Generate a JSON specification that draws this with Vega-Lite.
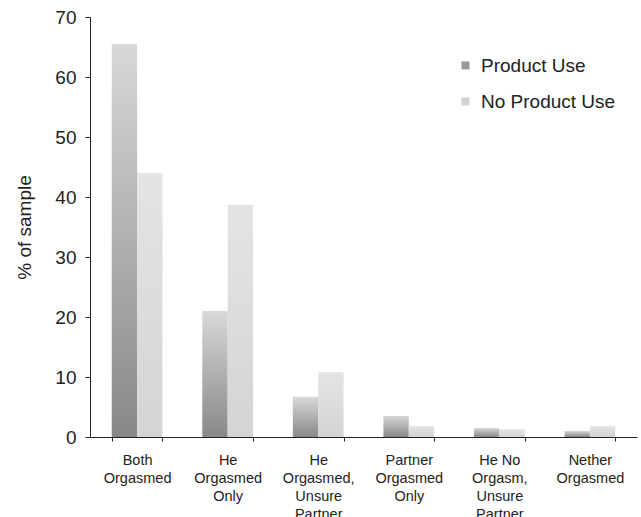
{
  "$schema": "https://vega.github.io/schema/vega-lite/v6.json",
  "autosize": "none",
  "width": 547,
  "height": 420,
  "padding": {"left": 90, "top": 17, "right": 4, "bottom": 80},
  "background": "white",
  "config": {
    "font": "Liberation Sans",
    "view": {"stroke": null},
    "axis": {"grid": false, "domainColor": "#222", "tickColor": "#222", "labelColor": "#222", "titleColor": "#222"}
  },
  "data": {
    "values": [
      {"outcome": "Both|Orgasmed", "series": "Product Use", "pct": 65.5},
      {"outcome": "Both|Orgasmed", "series": "No Product Use", "pct": 44.0},
      {"outcome": "He|Orgasmed|Only", "series": "Product Use", "pct": 21.0},
      {"outcome": "He|Orgasmed|Only", "series": "No Product Use", "pct": 38.7},
      {"outcome": "He|Orgasmed,|Unsure|Partner", "series": "Product Use", "pct": 6.7},
      {"outcome": "He|Orgasmed,|Unsure|Partner", "series": "No Product Use", "pct": 10.8},
      {"outcome": "Partner|Orgasmed|Only", "series": "Product Use", "pct": 3.5},
      {"outcome": "Partner|Orgasmed|Only", "series": "No Product Use", "pct": 1.8},
      {"outcome": "He No|Orgasm,|Unsure|Partner", "series": "Product Use", "pct": 1.5},
      {"outcome": "He No|Orgasm,|Unsure|Partner", "series": "No Product Use", "pct": 1.3},
      {"outcome": "Nether|Orgasmed", "series": "Product Use", "pct": 1.0},
      {"outcome": "Nether|Orgasmed", "series": "No Product Use", "pct": 1.8}
    ]
  },
  "encoding": {
    "x": {
      "field": "outcome",
      "type": "nominal",
      "sort": null,
      "scale": {"paddingInner": 0.44, "paddingOuter": 0.24},
      "axis": {
        "title": null,
        "labelAngle": 0,
        "labelExpr": "split(datum.label, '|')",
        "labelFontSize": 14.5,
        "labelLineHeight": 18,
        "labelPadding": 12,
        "tickBand": "extent",
        "tickSize": 4,
        "labelBaseline": "top"
      }
    },
    "xOffset": {"field": "series", "scale": {"domain": ["Product Use", "No Product Use"]}},
    "y": {
      "field": "pct",
      "type": "quantitative",
      "scale": {"domain": [0, 70]},
      "axis": {
        "title": "% of sample",
        "titleFontSize": 19,
        "titleFontWeight": "normal",
        "titlePadding": 20,
        "labelFontSize": 19,
        "labelPadding": 9,
        "tickSize": 5,
        "values": [0, 10, 20, 30, 40, 50, 60, 70]
      }
    }
  },
  "layer": [
    {
      "transform": [{"filter": "datum.series === 'Product Use'"}],
      "mark": {
        "type": "bar",
        "color": {"gradient": "linear", "x1": 0, "y1": 1, "x2": 0, "y2": 0, "stops": [{"offset": 0, "color": "#888888"}, {"offset": 1, "color": "#d8d8d8"}]}
      }
    },
    {
      "transform": [{"filter": "datum.series === 'No Product Use'"}],
      "mark": {
        "type": "bar",
        "color": {"gradient": "linear", "x1": 0, "y1": 1, "x2": 0, "y2": 0, "stops": [{"offset": 0, "color": "#d4d4d4"}, {"offset": 1, "color": "#e4e4e4"}]}
      }
    },
    {
      "mark": {"type": "bar", "opacity": 0},
      "encoding": {
        "color": {
          "field": "series",
          "type": "nominal",
          "scale": {"domain": ["Product Use", "No Product Use"], "range": ["#9a9a9a", "#d2d2d2"]},
          "legend": {
            "title": null,
            "orient": "none",
            "legendX": 366,
            "legendY": 39,
            "symbolType": "square",
            "symbolSize": 64,
            "symbolOpacity": 1,
            "symbolStrokeWidth": 0,
            "labelFontSize": 19,
            "labelOffset": 6,
            "rowPadding": 16,
            "labelColor": "#222"
          }
        }
      }
    }
  ]
}
